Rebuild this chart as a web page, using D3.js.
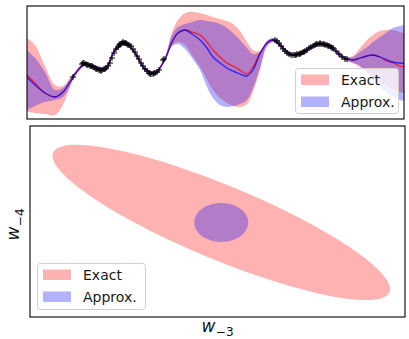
<!DOCTYPE html>
<html>
<head>
<meta charset="utf-8">
<script src="https://cdn.jsdelivr.net/npm/d3@7"></script>
<style>
  body { margin: 0; background: #fff; }
  svg { display: block; font-family: "DejaVu Sans", sans-serif; }
</style>
</head>
<body>
<svg id="chart" width="409" height="339"></svg>
<script>
// top panel: GP fit, exact vs approx posterior
const gridX = [0, 0.8, 1.8, 2.8, 3.6, 4.3, 4.8, 5.8, 6.8, 7.8, 8.8, 9.8, 10.8, 11.8, 12.8, 13.8,
  14.5, 15.1, 15.8, 16.5, 17.3, 18.0, 18.6, 19.3, 20.0, 20.6, 21.3, 22.0, 22.6, 23.3, 24.0, 24.6,
  25.3, 26.3, 27.3, 28.3, 29.3, 30.3, 31.3, 32.0, 32.6, 33.3, 34.0, 34.6, 35.3, 36.0, 36.6, 37.3, 37.7];

const exactMean = [-1.25, -2.05, -3.05, -3.45, -2.95, -1.95, -1.15,
  -0.15, -0.45, -0.65, 1.25, 1.95, 0.95, -0.65, -1.05, 0.35,
  2.05, 2.95, 3.25, 3.05, 2.75, 2.05, 1.25, 0.55, -0.05, -0.35, -0.75, -1.15, -0.45, 0.95, 1.95, 2.25,
  1.75, 0.85, 0.85, 1.45, 1.85, 1.65, 0.75,
  0.35, 0.25, 0.45, 0.65, 0.75, 0.55, 0.15, -0.05, -0.35, -0.45];
const exactUpper = [2.45, 1.75, -0.35, -2.25, -2.35, -1.55, -0.95,
  0.05, -0.25, -0.45, 1.45, 2.15, 1.15, -0.45, -0.85, 0.55,
  3.05, 4.25, 4.95, 5.05, 4.95, 4.75, 4.55, 4.35, 4.15, 3.85, 3.15, 2.05, 1.25, 1.15, 2.15, 2.45,
  1.95, 1.05, 1.05, 1.65, 2.05, 1.85, 0.95,
  0.55, 0.65, 1.45, 2.25, 2.75, 3.15, 3.25, 3.25, 3.05, 2.95];
const exactLower = [-4.95, -5.05, -5.15, -5.25, -4.25, -2.45, -1.35,
  -0.35, -0.65, -0.85, 1.05, 1.75, 0.75, -0.85, -1.25, 0.15,
  1.65, 2.05, 1.75, 0.75, -0.45, -1.75, -2.75, -3.55, -4.05, -4.35, -4.45, -4.15, -2.95, -0.75, 1.65, 2.05,
  1.55, 0.65, 0.65, 1.25, 1.65, 1.45, 0.55,
  0.15, -0.05, -0.45, -0.95, -1.45, -1.95, -2.35, -2.65, -2.95, -3.05];

const approxMean = [-1.45, -2.25, -3.05, -3.45, -2.95, -1.95, -1.15,
  -0.15, -0.45, -0.65, 1.25, 1.95, 0.95, -0.65, -1.05, 0.35,
  2.05, 2.95, 3.25, 2.85, 2.25, 1.45, 0.55, -0.05, -0.55, -0.85, -1.15, -1.35, -0.75, 0.85, 1.95, 2.25,
  1.75, 0.85, 0.85, 1.45, 1.85, 1.65, 0.75,
  0.35, 0.25, 0.45, 0.65, 0.75, 0.55, 0.25, 0.05, -0.05, -0.1];
const approxUpper = [1.25, 0.45, -0.95, -2.75, -2.55, -1.65, -0.95,
  0.05, -0.25, -0.45, 1.45, 2.15, 1.15, -0.45, -0.85, 0.55,
  2.75, 3.55, 3.85, 4.05, 4.25, 4.15, 4.05, 3.85, 3.45, 2.95, 2.25, 1.45, 0.85, 1.05, 2.15, 2.45,
  1.95, 1.05, 1.05, 1.65, 2.05, 1.85, 0.95,
  0.55, 0.55, 1.05, 1.55, 2.05, 2.55, 3.05, 3.45, 3.65, 3.75];
const approxLower = [-4.75, -4.35, -3.95, -3.75, -3.45, -2.35, -1.35,
  -0.35, -0.65, -0.85, 1.05, 1.75, 0.75, -0.85, -1.25, 0.15,
  1.65, 1.85, 1.35, 0.45, -0.75, -2.45, -3.55, -4.25, -4.45, -4.35, -4.15, -3.75, -2.55, -0.55, 1.65, 2.05,
  1.55, 0.65, 0.65, 1.25, 1.65, 1.45, 0.55,
  0.15, -0.05, -0.35, -1.05, -1.75, -2.45, -3.05, -3.45, -3.75, -3.85];

// observations (+ markers)
const obsX = [4.6, 5.5, 5.6, 5.7, 5.9, 6.0, 6.1, 6.3, 6.4, 6.5, 6.6, 6.8, 6.9, 7.0, 7.2, 7.3, 7.4, 7.5, 7.7, 7.8, 7.9, 8.1,
  8.3, 8.5, 8.7, 8.9, 9.1, 9.2, 9.3, 9.4, 9.5, 9.6, 9.7, 9.8, 9.9, 10.0, 10.1, 10.2, 10.4, 10.6,
  10.8, 11.0, 11.2, 11.4, 11.6, 11.8, 12.0, 12.2, 12.3, 12.4, 12.6, 12.7, 12.8, 13.0, 13.2, 13.6, 13.7,
  24.8, 25.0, 25.2, 25.4, 25.6, 25.8, 26.0, 26.2, 26.4, 26.6, 26.8, 26.9, 27.0, 27.2, 27.3, 27.4, 27.6, 27.7,
  27.8, 28.0, 28.2, 28.4, 28.6, 28.8, 28.9, 29.0, 29.2, 29.3, 29.4, 29.6, 29.7, 29.8, 30.0, 30.1, 30.2,
  30.4, 30.5, 30.6, 30.9, 31.2, 31.5, 31.8, 32.0];
const obsY = [-1.45, -0.15, -0.05, -0.05, -0.15, -0.25, -0.25, -0.35, -0.35, -0.35, -0.45, -0.55, -0.65, -0.65, -0.75, -0.75, -0.85, -0.75, -0.65, -0.65, -0.55, -0.35,
  -0.05, 0.45, 0.95, 1.35, 1.55, 1.75, 1.85, 1.85, 1.95, 2.05, 1.95, 1.95, 1.95, 1.85, 1.75, 1.75, 1.65, 1.35,
  1.05, 0.65, 0.35, -0.05, -0.35, -0.65, -0.85, -1.05, -1.15, -1.15, -1.15, -1.05, -1.05, -0.95, -0.75, 0.25, 0.35,
  2.25, 2.15, 1.95, 1.65, 1.35, 1.15, 0.95, 0.85, 0.75, 0.75, 0.75, 0.75, 0.85, 0.85, 0.85, 0.95, 1.05, 1.05,
  1.15, 1.25, 1.45, 1.55, 1.65, 1.75, 1.85, 1.85, 1.85, 1.95, 1.85, 1.85, 1.85, 1.75, 1.75, 1.65, 1.65,
  1.55, 1.45, 1.45, 1.15, 0.85, 0.55, 0.35, 0.35];

// bottom panel: 2-d marginal over (w_-3, w_-4), centre + two semi-axis vectors
const exactCentre = [0.02, -0.01];
const exactAxes = [[0.897, -0.730], [0.076, 0.358]];
const approxCentre = [0.02, -0.01];
const approxAxes = [[0.144, 0], [0, 0.204]];

const legendLabels = ['Exact', 'Approx.'];
const fillColors = ['red', 'blue'];

const svg = d3.select('#chart');

// ---------- top panel ----------
const p1 = { left: 27, right: 404, top: 6, bottom: 119 };
const x1 = d3.scaleLinear().domain([0, 37.7]).range([p1.left, p1.right]);
const y1 = d3.scaleLinear().domain([-5.65, 5.65]).range([p1.bottom, p1.top]);

svg.append('clipPath').attr('id', 'clip1')
  .append('rect')
  .attr('x', p1.left).attr('y', p1.top)
  .attr('width', p1.right - p1.left).attr('height', p1.bottom - p1.top);

const g1 = svg.append('g').attr('clip-path', 'url(#clip1)');

const bands = [
  { lo: exactLower, hi: exactUpper, mean: exactMean, color: fillColors[0] },
  { lo: approxLower, hi: approxUpper, mean: approxMean, color: fillColors[1] },
];

bands.forEach((b) => {
  const area = d3.area()
    .x((d, i) => x1(gridX[i]))
    .y0((d, i) => y1(b.lo[i]))
    .y1((d, i) => y1(b.hi[i]))
    .curve(d3.curveCatmullRom);
  g1.append('path')
    .attr('d', area(gridX))
    .attr('fill', b.color)
    .attr('fill-opacity', 0.3);
});

bands.forEach((b) => {
  const line = d3.line()
    .x((d, i) => x1(gridX[i]))
    .y((d, i) => y1(b.mean[i]))
    .curve(d3.curveCatmullRom);
  g1.append('path')
    .attr('d', line(gridX))
    .attr('fill', 'none')
    .attr('stroke', b.color)
    .attr('stroke-opacity', 0.75)
    .attr('stroke-width', 1.3);
});

g1.selectAll('.obs')
  .data(obsX)
  .enter()
  .append('path')
  .attr('class', 'obs')
  .attr('transform', (d, i) => `translate(${x1(d)},${y1(obsY[i])})`)
  .attr('d', 'M-3,0H3M0,-3V3')
  .attr('stroke', '#000')
  .attr('stroke-width', 1);

// ---------- bottom panel ----------
const p2 = { left: 30, right: 405, top: 126, bottom: 317 };
const x2 = d3.scaleLinear().domain([-1, 1]).range([p2.left, p2.right]);
const y2 = d3.scaleLinear().domain([-1, 1]).range([p2.bottom, p2.top]);

const ellipsePoints = (c, ax) => d3.range(0, 361, 3).map((deg) => {
  const t = deg * Math.PI / 180;
  return [
    c[0] + Math.cos(t) * ax[0][0] + Math.sin(t) * ax[1][0],
    c[1] + Math.cos(t) * ax[0][1] + Math.sin(t) * ax[1][1],
  ];
});

const ellLine = d3.line()
  .x((d) => x2(d[0]))
  .y((d) => y2(d[1]))
  .curve(d3.curveLinearClosed);

[[exactCentre, exactAxes], [approxCentre, approxAxes]].forEach((e, i) => {
  svg.append('path')
    .attr('d', ellLine(ellipsePoints(e[0], e[1])))
    .attr('fill', fillColors[i])
    .attr('fill-opacity', 0.3);
});

// legends
function drawLegend(x0, y0, w, h) {
  const lg = svg.append('g').attr('transform', `translate(${x0},${y0})`);
  lg.append('rect')
    .attr('x', 0.5).attr('y', 0.5)
    .attr('width', w).attr('height', h)
    .attr('rx', 3)
    .attr('fill', '#fff').attr('fill-opacity', 0.8)
    .attr('stroke', '#d0d0d0').attr('stroke-width', 1);
  legendLabels.forEach((lab, i) => {
    lg.append('rect')
      .attr('x', 6).attr('y', 6.5 + i * 22)
      .attr('width', 28).attr('height', 10.5)
      .attr('fill', fillColors[i]).attr('fill-opacity', 0.3);
    lg.append('text')
      .attr('x', 46).attr('y', 17 + i * 22)
      .attr('font-size', 14)
      .attr('fill', '#1a1a1a')
      .text(lab);
  });
}
drawLegend(295, 68, 103, 45);
drawLegend(37, 263, 108, 46);

// frames
[p1, p2].forEach((p) => {
  svg.append('rect')
    .attr('x', p.left).attr('y', p.top)
    .attr('width', p.right - p.left).attr('height', p.bottom - p.top)
    .attr('fill', 'none')
    .attr('stroke', '#000')
    .attr('stroke-width', 1.1);
});

// axis labels (w_{-3}, w_{-4})
function mathLabel(sel, sub) {
  sel.append('tspan').attr('font-style', 'italic').text('w');
  sel.append('tspan').attr('font-size', 12).attr('dy', 4.5).attr('dx', 0.5).text('\u2212' + sub);
}
const xl = svg.append('text')
  .attr('x', (p2.left + p2.right) / 2)
  .attr('y', 331.5)
  .attr('text-anchor', 'middle')
  .attr('font-size', 17)
  .attr('fill', '#111');
mathLabel(xl, '3');

const yl = svg.append('text')
  .attr('transform', `translate(19,${(p2.top + p2.bottom) / 2 + 3}) rotate(-90)`)
  .attr('text-anchor', 'middle')
  .attr('font-size', 17)
  .attr('fill', '#111');
mathLabel(yl, '4');
</script>
</body>
</html>
